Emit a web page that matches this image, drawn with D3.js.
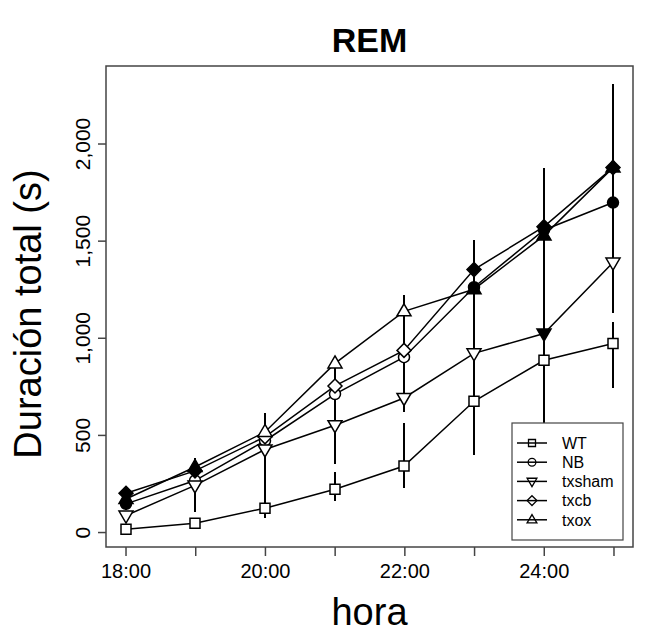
<!DOCTYPE html>
<html>
<head>
<meta charset="utf-8">
<script src="https://cdn.jsdelivr.net/npm/d3@7"></script>
<style>
  body { margin: 0; background: #fff; }
  text { font-family: "Liberation Sans", Arial, sans-serif; fill: #000; }
</style>
</head>
<body>
<script>
const width = 663;
const height = 633;

// hours (24 and 25 are past midnight)
const hours = [18, 19, 20, 21, 22, 23, 24, 25];
const xTickLabels = ["18:00", "20:00", "22:00", "24:00"];
const xLabelHours = [18, 20, 22, 24];
const yTicks = [0, 500, 1000, 1500, 2000];

const groups = ["WT", "NB", "txsham", "txcb", "txox"];
const shapes = ["square", "circle", "down", "diamond", "up"];

// mean total duration (s)
const wtValues = [15, 45, 123, 220, 340, 673, 884, 971];
const nbValues = [145, 265, 470, 710, 900, 1260, 1555, 1696];
const txshamValues = [85, 240, 425, 550, 690, 920, 1022, 1387];
const txcbValues = [200, 315, 490, 752, 935, 1351, 1572, 1876];
const txoxValues = [170, 335, 515, 868, 1136, 1250, 1526, 1876];

// error bar lengths, up and down
const wtErrUp = [10, 27, 40, 90, 220, 250, 130, 108];
const wtErrDown = [10, 20, 51, 60, 114, 278, 450, 231];
const nbErrUp = [30, 60, 100, 150, 200, 200, 250, 400];
const nbErrDown = [30, 60, 100, 150, 200, 200, 250, 400];
const txshamErrUp = [20, 60, 80, 150, 150, 300, 500, 400];
const txshamErrDown = [20, 137, 300, 200, 73, 250, 400, 257];
const txcbErrUp = [30, 40, 100, 100, 150, 150, 303, 431];
const txcbErrDown = [30, 40, 100, 100, 150, 150, 303, 431];
const txoxErrUp = [25, 45, 100, 15, 85, 200, 300, 400];
const txoxErrDown = [25, 45, 100, 15, 85, 200, 300, 400];

// filled marker = 1
const wtFilled = [0, 0, 0, 0, 0, 0, 0, 0];
const nbFilled = [1, 0, 0, 0, 0, 1, 1, 1];
const txshamFilled = [0, 0, 0, 0, 0, 0, 1, 0];
const txcbFilled = [1, 1, 0, 0, 0, 1, 1, 1];
const txoxFilled = [1, 1, 0, 0, 0, 1, 1, 1];

const series = [
    { name: groups[0], shape: shapes[0], values: wtValues, up: wtErrUp, down: wtErrDown, filled: wtFilled },
    { name: groups[1], shape: shapes[1], values: nbValues, up: nbErrUp, down: nbErrDown, filled: nbFilled },
    { name: groups[2], shape: shapes[2], values: txshamValues, up: txshamErrUp, down: txshamErrDown, filled: txshamFilled },
    { name: groups[3], shape: shapes[3], values: txcbValues, up: txcbErrUp, down: txcbErrDown, filled: txcbFilled },
    { name: groups[4], shape: shapes[4], values: txoxValues, up: txoxErrUp, down: txoxErrDown, filled: txoxFilled }
];

const plotLeft = 106, plotRight = 633, plotTop = 66, plotBottom = 547;

const x = d3.scaleLinear().domain([17.72, 25.28]).range([plotLeft, plotRight]);
const y = d3.scaleLinear().domain([-77, 2399]).range([plotBottom, plotTop]);

// marker paths, k scales the size
function markerPath(shape, k) {
    const p = d3.path();
    if (shape === "square") {
        const h = 5 * k;
        p.rect(-h, -h, 2 * h, 2 * h);
    } else if (shape === "circle") {
        p.arc(0, 0, 5.5 * k, 0, 2 * Math.PI);
    } else if (shape === "up") {
        p.moveTo(0, -7.5 * k); p.lineTo(7 * k, 4.5 * k); p.lineTo(-7 * k, 4.5 * k); p.closePath();
    } else if (shape === "down") {
        p.moveTo(0, 7.5 * k); p.lineTo(7 * k, -4.5 * k); p.lineTo(-7 * k, -4.5 * k); p.closePath();
    } else if (shape === "diamond") {
        const h = 7 * k;
        p.moveTo(0, -h); p.lineTo(h, 0); p.lineTo(0, h); p.lineTo(-h, 0); p.closePath();
    }
    return p.toString();
}

const svg = d3.select("body")
    .append("svg")
    .attr("width", width)
    .attr("height", height);

// title
svg.append("text")
    .attr("x", (plotLeft + plotRight) / 2)
    .attr("y", 52)
    .attr("text-anchor", "middle")
    .style("font-size", "34px")
    .style("font-weight", "bold")
    .text("REM");

// error bars
series.forEach(s => {
    svg.append("g")
        .selectAll("line")
        .data(hours.map((h, i) => ({ h, v: s.values[i], up: s.up[i], down: s.down[i] })))
        .enter()
        .append("line")
        .attr("x1", d => Math.round(x(d.h)))
        .attr("x2", d => Math.round(x(d.h)))
        .attr("y1", d => y(d.v + d.up))
        .attr("y2", d => y(d.v - d.down))
        .attr("stroke", "#000")
        .attr("stroke-width", 2)
        .attr("shape-rendering", "crispEdges");
});

// connecting lines
const line = d3.line()
    .x((d, i) => Math.round(x(hours[i])))
    .y(d => y(d));

series.forEach(s => {
    svg.append("path")
        .datum(s.values)
        .attr("d", line)
        .attr("fill", "none")
        .attr("stroke", "#000")
        .attr("stroke-width", 1.5);
});

// markers
series.forEach(s => {
    svg.append("g")
        .selectAll("path")
        .data(hours.map((h, i) => ({ h, v: s.values[i], f: s.filled[i] })))
        .enter()
        .append("path")
        .attr("transform", d => `translate(${Math.round(x(d.h))},${y(d.v)})`)
        .attr("d", markerPath(s.shape, 1))
        .attr("fill", d => d.f ? "#000" : "#fff")
        .attr("stroke", "#000")
        .attr("stroke-width", 1.5);
});

// box
svg.append("rect")
    .attr("x", plotLeft)
    .attr("y", plotTop)
    .attr("width", plotRight - plotLeft)
    .attr("height", plotBottom - plotTop)
    .attr("fill", "none")
    .attr("stroke", "#444")
    .attr("stroke-width", 1.5);

// x axis
const xAxis = svg.append("g")
    .attr("transform", `translate(0,${plotBottom})`)
    .call(d3.axisBottom(x).tickValues(hours).tickSize(9)
        .tickFormat(h => {
            const j = xLabelHours.indexOf(h);
            return j >= 0 ? xTickLabels[j] : "";
        }));
xAxis.select(".domain").remove();
xAxis.selectAll(".tick line").attr("stroke", "#444").attr("stroke-width", 1.5);
xAxis.selectAll(".tick text")
    .attr("y", 17)
    .attr("dy", "0.71em")
    .style("font-family", "'Liberation Sans', Arial, sans-serif")
    .style("font-size", "20px");

// y axis
const yAxis = svg.append("g")
    .attr("transform", `translate(${plotLeft},0)`)
    .call(d3.axisLeft(y).tickValues(yTicks).tickSize(8).tickFormat(d3.format(",")));
yAxis.select(".domain").remove();
yAxis.selectAll(".tick line").attr("stroke", "#444").attr("stroke-width", 1.5);
yAxis.selectAll(".tick text")
    .attr("x", 0)
    .attr("dy", null)
    .attr("text-anchor", "middle")
    .attr("transform", "translate(-16,0) rotate(-90)")
    .style("font-family", "'Liberation Sans', Arial, sans-serif")
    .style("font-size", "21px");

// axis titles
svg.append("text")
    .attr("x", (plotLeft + plotRight) / 2)
    .attr("y", 625)
    .attr("text-anchor", "middle")
    .style("font-size", "38px")
    .text("hora");

svg.append("text")
    .attr("transform", `translate(41,314) rotate(-90)`)
    .attr("text-anchor", "middle")
    .style("font-size", "38px")
    .text("Duración total (s)");

// legend
const legend = svg.append("g");
legend.append("rect")
    .attr("x", 512)
    .attr("y", 423)
    .attr("width", 111)
    .attr("height", 117)
    .attr("fill", "#fff")
    .attr("stroke", "#444")
    .attr("stroke-width", 1.2);

const entries = legend.selectAll("g.entry")
    .data(series)
    .enter()
    .append("g")
    .attr("class", "entry")
    .attr("transform", (d, i) => `translate(0,${443 + i * 19.2})`);

entries.append("line")
    .attr("x1", 517).attr("x2", 547)
    .attr("stroke", "#000").attr("stroke-width", 1.5);

entries.append("path")
    .attr("transform", "translate(532,0)")
    .attr("d", d => markerPath(d.shape, 0.7))
    .attr("fill", "none")
    .attr("stroke", "#000")
    .attr("stroke-width", 1.3);

entries.append("text")
    .attr("x", 562)
    .attr("dy", "0.36em")
    .style("font-size", "16px")
    .text(d => d.name);
</script>
</body>
</html>
